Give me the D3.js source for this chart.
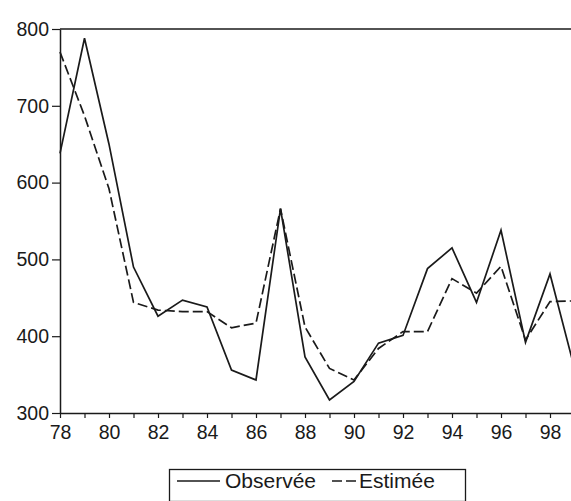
<!DOCTYPE html>
<html>
<head>
<meta charset="utf-8">
<script src="https://cdn.jsdelivr.net/npm/d3@7"></script>
<style>
  html, body { margin: 0; padding: 0; background: #ffffff; }
  svg { display: block; }
  text { font-family: "Liberation Sans", Arial, sans-serif; fill: #1a1a1a; }
</style>
</head>
<body>
<svg id="chart" width="571" height="501"></svg>
<script>
// ---- data ----
const years = [78, 79, 80, 81, 82, 83, 84, 85, 86, 87, 88, 89, 90, 91, 92, 93, 94, 95, 96, 97, 98, 99];
const observed = [638, 788, 650, 490, 426, 447, 438, 356, 343, 566, 373, 317, 341, 391, 401, 488, 515, 444, 538, 392, 481, 358];
const estimated = [770, 687, 592, 444, 434, 432, 432, 411, 417, 566, 412, 358, 343, 384, 406, 406, 475, 456, 491, 395, 445, 446];
const yTicks = [300, 400, 500, 600, 700, 800];
const xLabelYears = [78, 80, 82, 84, 86, 88, 90, 92, 94, 96, 98];
const seriesNames = ["Observée", "Estimée"];

(function () {
  // ---- layout ----
  const svg = d3.select("#chart");
  const mLeft = 60, mRight = 574.5, mTop = 29, mBottom = 413;
  const ink = "#1a1a1a";
  const font = '"Liberation Sans", Arial, sans-serif';

  const x = d3.scaleLinear().domain([78, 99]).range([mLeft, mRight]);
  const y = d3.scaleLinear().domain([300, 800]).range([mBottom, mTop]);

  // top frame line
  svg.append("line")
    .attr("x1", mLeft).attr("x2", 571)
    .attr("y1", y(800)).attr("y2", y(800))
    .attr("stroke", ink).attr("stroke-width", 1.5);

  // x axis
  const xAxis = d3.axisBottom(x)
    .tickValues(years)
    .tickSize(5)
    .tickSizeOuter(0)
    .tickFormat(d => xLabelYears.includes(d) ? String(d) : "");
  const gx = svg.append("g").attr("transform", `translate(0,${mBottom})`).call(xAxis);
  gx.select(".domain").attr("stroke", ink).attr("stroke-width", 1.5);
  gx.selectAll(".tick line").attr("stroke", ink).attr("stroke-width", 1.2);
  gx.selectAll(".tick text")
    .attr("font-size", 19.5).attr("dy", "1.0em").attr("y", 6)
    .style("font-family", font).attr("fill", ink);

  // y axis
  const yAxis = d3.axisLeft(y)
    .tickValues(yTicks)
    .tickSize(8)
    .tickSizeOuter(0)
    .tickFormat(d3.format("d"));
  const gy = svg.append("g").attr("transform", `translate(${mLeft},0)`).call(yAxis);
  gy.select(".domain").attr("stroke", ink).attr("stroke-width", 1.5);
  gy.selectAll(".tick line").attr("stroke", ink).attr("stroke-width", 1.2);
  gy.selectAll(".tick text")
    .attr("font-size", 19.5).attr("x", -11)
    .style("font-family", font).attr("fill", ink);

  // lines
  const line = d3.line().x((d, i) => x(years[i])).y(d => y(d));

  svg.append("path")
    .datum(estimated)
    .attr("d", line)
    .attr("fill", "none")
    .attr("stroke", ink)
    .attr("stroke-width", 1.7)
    .attr("stroke-dasharray", "10,4");

  svg.append("path")
    .datum(observed)
    .attr("d", line)
    .attr("fill", "none")
    .attr("stroke", ink)
    .attr("stroke-width", 1.7);

  // legend
  const lg = svg.append("g");
  lg.append("rect")
    .attr("x", 169.5).attr("y", 469.5)
    .attr("width", 296).attr("height", 32)
    .attr("fill", "none").attr("stroke", ink).attr("stroke-width", 1.3);

  lg.append("line")
    .attr("x1", 177).attr("x2", 220).attr("y1", 481).attr("y2", 481)
    .attr("stroke", ink).attr("stroke-width", 1.6);
  lg.append("text")
    .attr("x", 225).attr("y", 488)
    .attr("font-size", 21)
    .text(seriesNames[0]);

  lg.append("line")
    .attr("x1", 332).attr("x2", 356).attr("y1", 481).attr("y2", 481)
    .attr("stroke", ink).attr("stroke-width", 1.6)
    .attr("stroke-dasharray", "10,4");
  lg.append("text")
    .attr("x", 359).attr("y", 488)
    .attr("font-size", 21)
    .text(seriesNames[1]);
})();
</script>
</body>
</html>
